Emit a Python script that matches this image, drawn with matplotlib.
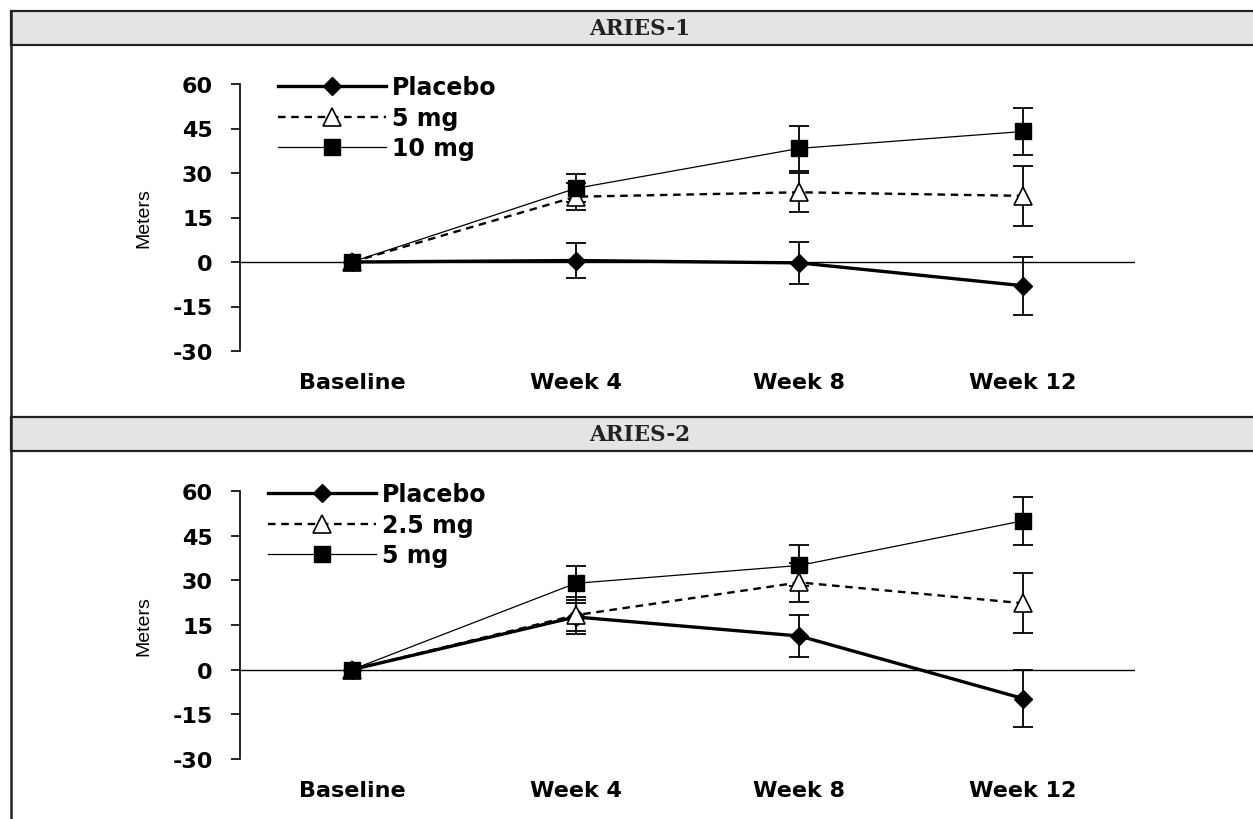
import numpy as np
import matplotlib.pyplot as plt
from matplotlib.patches import Rectangle
from matplotlib.lines import Line2D

# Visits on the x axis
weeks = ['Baseline', 'Week 4', 'Week 8', 'Week 12']

# ARIES-1 : change in 6-minute walk distance (meters) and error bar half-widths
a1_placebo = [0, 0.5, -0.3, -8.0]
a1_placebo_err = [0, 6.0, 7.0, 9.7]
a1_5mg = [0, 22.0, 23.5, 22.3]
a1_5mg_err = [0, 4.5, 6.5, 10.0]
a1_10mg = [0, 24.8, 38.3, 44.0]
a1_10mg_err = [0, 4.7, 7.5, 8.0]

# ARIES-2
a2_placebo = [0, 17.7, 11.3, -9.7]
a2_placebo_err = [0, 4.6, 7.0, 9.5]
a2_25mg = [0, 18.3, 29.3, 22.3]
a2_25mg_err = [0, 6.2, 6.5, 10.0]
a2_5mg = [0, 29.0, 35.0, 50.0]
a2_5mg_err = [0, 5.7, 7.0, 8.0]

yticks = [-30, -15, 0, 15, 30, 45, 60]

W, H = 1253, 820
fig = plt.figure(figsize=(W / 100, H / 100), dpi=100)


def fy(py):
    # pixel row (from top) -> figure fraction
    return 1 - py / H


def fx(px):
    return px / W


# header bands and the outer border
def band(top, bottom, title):
    r = Rectangle((fx(10.5), fy(bottom)), fx(W + 5) - fx(10.5), fy(top) - fy(bottom),
                  transform=fig.transFigure, facecolor='#e4e4e4', edgecolor='#222222',
                  lw=1.6, zorder=0)
    fig.patches.append(r)
    fig.text(fx(640), fy((top + bottom) / 2), title, ha='center', va='center',
             family='DejaVu Serif', weight='bold', fontsize=15.5, color='#222222')


band(11.5, 46, 'ARIES-1')
band(418, 452, 'ARIES-2')
fig.add_artist(Line2D([fx(10.5), fx(10.5)], [fy(11.5), 0], transform=fig.transFigure,
                      color='#222222', lw=1.8))

x = np.arange(len(weeks))
tick_font = dict(family='DejaVu Sans', weight='bold', size=16)


def panel(rect, series, labels, leg_anchor):
    ax = fig.add_axes(rect)
    styles = [
        dict(color='black', lw=2.4, ls='-', marker='D', ms=9, mfc='black', mec='black'),
        dict(color='black', lw=1.7, ls=(0, (3.2, 2.4)), marker='^', ms=13.5, mfc='white', mec='black', mew=1.2),
        dict(color='black', lw=0.9, ls='-', marker='s', ms=11, mfc='black', mec='black'),
    ]
    handles = []
    for (vals, errs), st, lab in zip(series, styles, labels):
        # error bars only after baseline
        ax.errorbar(x[1:], vals[1:], yerr=errs[1:], fmt='none', ecolor='black',
                    elinewidth=1.3, capsize=7, capthick=1.3, zorder=2)
        ln, = ax.plot(x, vals, label=lab, zorder=3, **st)
        handles.append(ln)
    ax.axhline(0, color='black', lw=1, zorder=1)
    ax.set_xlim(-0.5, 3.5)
    ax.set_ylim(-30, 60)
    for s in ['top', 'right', 'bottom']:
        ax.spines[s].set_visible(False)
    ax.spines['left'].set_linewidth(1.2)
    ax.set_yticks(yticks)
    ax.set_yticklabels([str(t) for t in yticks], fontdict=tick_font)
    ax.set_xticks(x)
    ax.set_xticklabels(weeks, fontdict=tick_font)
    ax.tick_params(axis='y', direction='out', length=6.5, width=1.2, pad=13)
    ax.tick_params(axis='x', length=0, pad=15)
    ax.set_ylabel('Meters', family='Liberation Sans', fontsize=14)
    ax.yaxis.set_label_coords(-0.098, 0.5)
    ax.legend(handles=handles, loc='upper left', bbox_to_anchor=leg_anchor,
              frameon=False, numpoints=1, handlelength=4.6, handletextpad=0.25,
              labelspacing=0.27, borderpad=0, borderaxespad=0,
              prop=dict(family='DejaVu Sans', weight='bold', size=17))
    return ax


ax_left = fx(240)
ax_w = fx(1135) - fx(240)

panel([ax_left, fy(352), ax_w, fy(85) - fy(352)],
      [(a1_placebo, a1_placebo_err), (a1_5mg, a1_5mg_err), (a1_10mg, a1_10mg_err)],
      ['Placebo', '5 mg', '10 mg'], (0.042, 1.032))

panel([ax_left, fy(760), ax_w, fy(492) - fy(760)],
      [(a2_placebo, a2_placebo_err), (a2_25mg, a2_25mg_err), (a2_5mg, a2_5mg_err)],
      ['Placebo', '2.5 mg', '5 mg'], (0.031, 1.032))

plt.savefig('out.png', dpi=100)
